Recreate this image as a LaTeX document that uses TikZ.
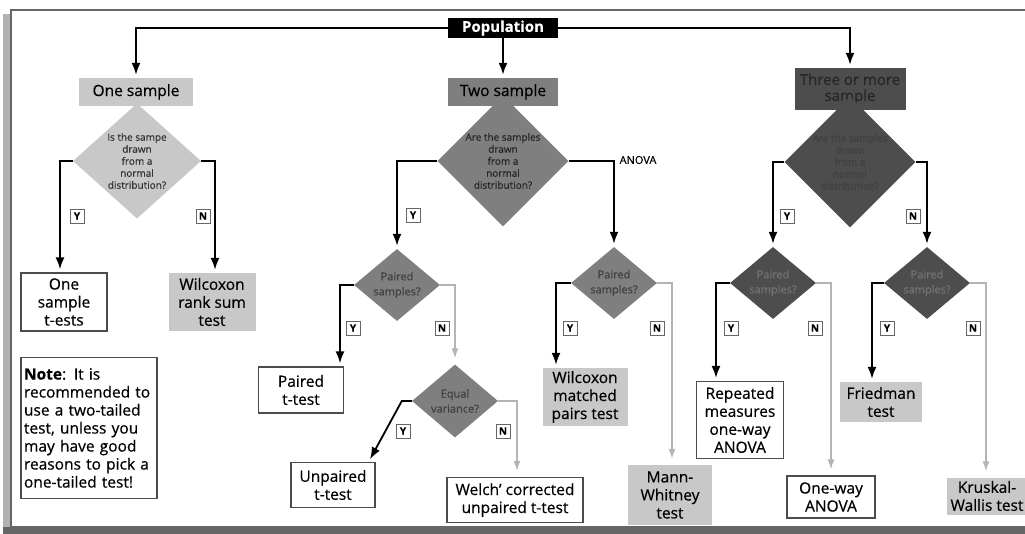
\documentclass[tikz,border=0pt]{standalone}
\usepackage{fontspec}
\setmainfont{Open Sans}[FakeBold=0.5]
\usetikzlibrary{shapes.geometric,arrows.meta}
\definecolor{lgrey}{HTML}{C8C8C8}
\definecolor{mgrey}{HTML}{7F7F7F}
\definecolor{dgrey}{HTML}{4D4D4D}
\definecolor{agrey}{HTML}{B4B4B4}
\newcommand{\boxfont}{\fontsize{15.5}{18}\selectfont}
\begin{document}
\begin{tikzpicture} [x = 1pt, y = -1pt, >= {Latex[length=12pt, width=9pt]},
    yes/.style = {->, draw = black, line width = 1.8pt, shorten >= 3pt},
    no/.style = {->, draw = agrey, line width = 1.4pt, shorten >= 6pt, >= {Latex[length=10pt, width=7pt]}},
    grp/.style = {rectangle, inner sep = 0pt, align = center, font = \boxfont},
    qbig/.style = {diamond, inner sep = 0pt, align = center, minimum width = 128pt, minimum height = 110pt, font = \fontsize{10}{12}\selectfont},
    qsml/.style = {diamond, inner sep = 0pt, minimum width = 86pt, minimum height = 72pt},
    qtxt/.style = {align = center, inner sep = 0pt, font = \fontsize{11}{15}\selectfont},
    res/.style = {rectangle, draw = black!70, line width = 1.2pt, fill = white, align = center, inner sep = 0pt, font = \boxfont},
    resg/.style = {rectangle, fill = lgrey, align = center, inner sep = 0pt, font = \boxfont},
    yn/.style = {draw = black!60, fill = white, line width = 0.8pt, font = \fontsize{10}{10}\selectfont\bfseries, minimum size = 14pt, inner sep = 0pt}]

    \useasboundingbox (0,0) rectangle (1025,534);
    % frame
    \fill [black!30] (3,14) rectangle (1040,534);
    \fill [black!60] (3,527) rectangle (1040,534);
    \draw [fill = white, draw = black!60, line width = 2pt] (11,10) rectangle (1040,527);

    % top level
    \node [fill = black, text = white, font = \fontsize{15}{15}\selectfont\bfseries, minimum width = 110pt, minimum height = 20pt, inner sep = 0pt] (pop) at (503,28) {Population};
    \node [grp, fill = lgrey, minimum width = 114pt, minimum height = 28pt] (os) at (136,92) {One sample};
    \node [grp, fill = mgrey, minimum width = 110pt, minimum height = 28pt] (ts) at (503,92) {Two sample};
    \node [grp, fill = dgrey, text = black!85, minimum width = 111pt, minimum height = 42pt, font = \fontsize{15}{16}\selectfont] (tm) at (850,89) {Three or more\\sample};

    \node [qbig, fill = lgrey, text = black!80] (d1) at (137,161) {Is the sampe\\drawn\\from a\\normal\\distribution?};
    \node [qbig, fill = mgrey, text = black!85] (d2) at (503,161) {Are the samples\\drawn\\from a\\normal\\distribution?};
    \node [qbig, fill = dgrey, text = black!75, minimum height = 105pt] (d3) at (850,162) {Are the samples\\drawn\\from a\\normal\\distribution?};

    % one sample
    \node [res, minimum width = 86pt, minimum height = 58pt] (ost) at (64,302) {One\\sample\\t-ests};
    \node [resg, minimum width = 87pt, minimum height = 58pt] (wrs) at (212,302) {Wilcoxon\\rank sum\\test};
    \node [res, align = left, text width = 130pt, minimum height = 141pt, inner sep = 3pt] (note) at (89,428) {\textbf{Note}: It is\\recommended to\\use a two-tailed\\test, unless you\\may have good\\reasons to pick a\\one-tailed test!};

    % two sample
    \node [qsml, fill = mgrey] (pa) at (397,285) {};
    \node [qtxt, text = black!75] (pat) at (pa) {Paired\\samples?};
    \node [qsml, fill = mgrey] (pb) at (614,283) {};
    \node [qtxt, text = black!75] (pbt) at (pb) {Paired\\samples?};
    \node [qsml, fill = mgrey, minimum height = 73pt] (ev) at (455,401) {};
    \node [qtxt, text = black!75] (evt) at (ev) {Equal\\variance?};
    \node [res, minimum width = 85pt, minimum height = 46pt] (ptt) at (301,390) {Paired\\t-test};
    \node [res, minimum width = 84pt, minimum height = 45pt] (upt) at (333,485) {Unpaired\\t-test};
    \node [res, minimum width = 136pt, minimum height = 45pt] (wct) at (515,500) {Welch’ corrected\\unpaired t-test};
    \node [resg, minimum width = 85pt, minimum height = 58pt] (wmp) at (585,397) {Wilcoxon\\matched\\pairs test};
    \node [resg, minimum width = 84pt, minimum height = 60pt] (mw) at (670,495) {Mann-\\Whitney\\test};

    % three or more
    \node [qsml, fill = dgrey] (pc) at (773,283) {};
    \node [qtxt, text = black!55] (pct) at (pc) {Paired\\samples?};
    \node [qsml, fill = dgrey] (pd) at (927,283) {};
    \node [qtxt, text = black!55] (pdt) at (pd) {Paired\\samples?};
    \node [res, minimum width = 87pt, minimum height = 77pt] (rm) at (740,420) {Repeated\\measures\\one-way\\ANOVA};
    \node [res, minimum width = 88pt, minimum height = 42pt] (owa) at (831,497) {One-way\\ANOVA};
    \node [resg, minimum width = 82pt, minimum height = 40pt] (fr) at (881,402) {Friedman\\test};
    \node [resg, minimum width = 80pt, minimum height = 37pt] (kw) at (987,496) {Kruskal-\\Wallis test};

    % connectors
    \draw [yes] (pop.west) -| (os.north);
    \draw [yes] (pop.south) -- (ts.north);
    \draw [yes] (pop.east) -| (tm.north);

    \draw [yes] (d1.west) -| ([xshift = -4pt]ost.north);
    \draw [yes] (d1.east) -| ([xshift = 3pt]wrs.north);
    \draw [yes] (d2.west) -| (pa.north);
    \draw [yes] (d2.east) -| (pb.north);
    \draw [yes] (d3.west) -| (pc.north);
    \draw [yes] (d3.east) -| (pd.north);

    \draw [yes] (pa.west) -| ([xshift = 39pt]ptt.north);
    \draw [no] (pa.east) -| (ev.north);
    \draw [yes] (ev.west) -- ++(-10,0) -- ([xshift = -7pt]upt.north east);
    \draw [no] (ev.east) -| ([xshift = 2pt]wct.north);
    \draw [yes] (pb.west) -| ([xshift = -29pt]wmp.north);
    \draw [no] (pb.east) -| ([xshift = 2pt]mw.north);
    \draw [yes] (pc.west) -| ([xshift = -24pt]rm.north);
    \draw [no] (pc.east) -| (owa.north);
    \draw [yes] (pd.west) -| ([xshift = -9pt]fr.north);
    \draw [no] (pd.east) -| ([xshift = -1pt]kw.north);

    % labels
    \node [yn] (y1) at (77,216) {Y};
    \node [yn] (n1) at (203,216) {N};
    \node [yn] (y2) at (413,215) {Y};
    \node [font = \fontsize{11}{11}\selectfont] (anova) at (638,160) {ANOVA};
    \node [yn] (y3) at (787,216) {Y};
    \node [yn] (n3) at (913,216) {N};
    \node [yn] (ya) at (353,328) {Y};
    \node [yn] (na) at (442,328) {N};
    \node [yn] (yb) at (570,328) {Y};
    \node [yn] (nb) at (657,328) {N};
    \node [yn] (yc) at (731,328) {Y};
    \node [yn] (nc) at (815,328) {N};
    \node [yn] (yd) at (887,328) {Y};
    \node [yn] (nd) at (973,328) {N};
    \node [yn] (ye) at (403,431) {Y};
    \node [yn] (ne) at (503,431) {N};

\end{tikzpicture}
\end{document}
